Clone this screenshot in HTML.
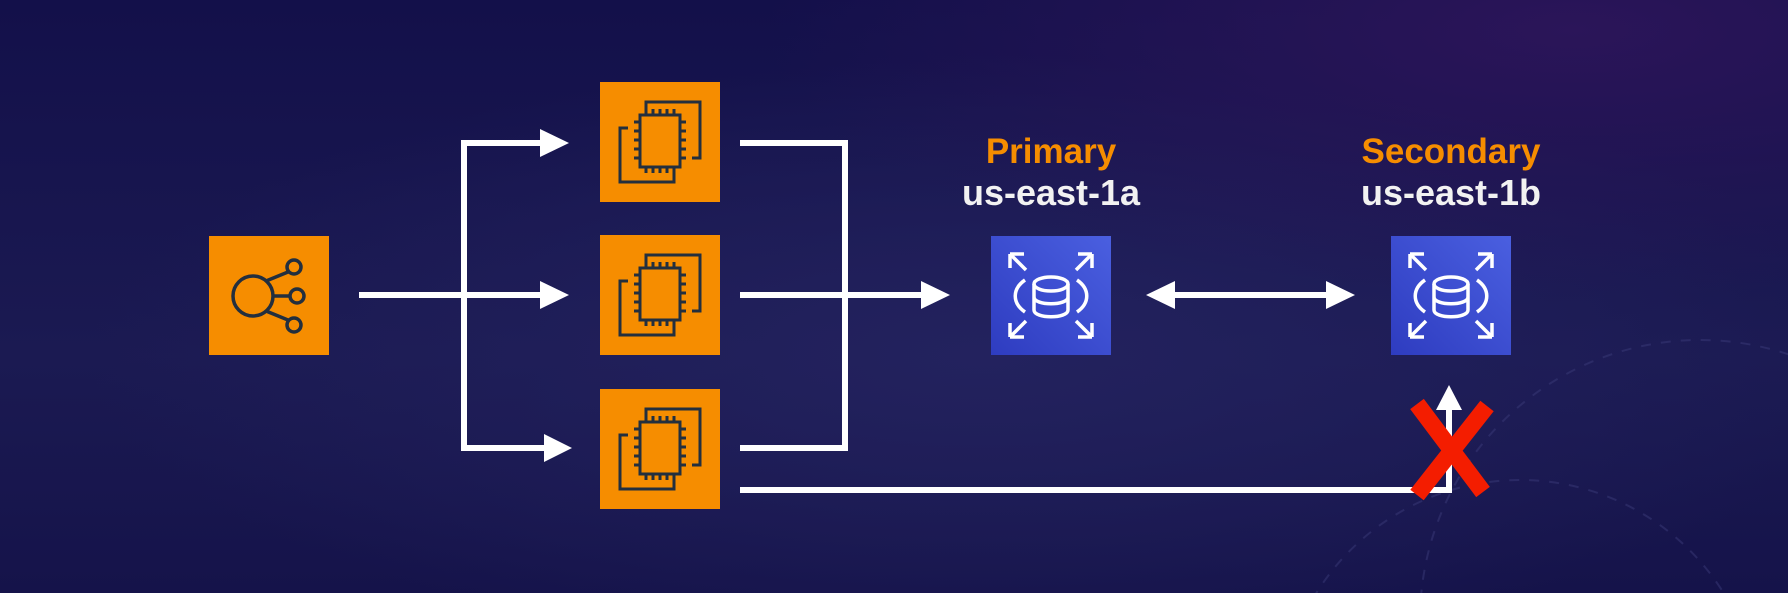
<!DOCTYPE html>
<html><head><meta charset="utf-8"><style>
html,body{margin:0;padding:0;width:1788px;height:593px;overflow:hidden;background:#15124a}
svg{display:block}
text{font-family:"Liberation Sans",sans-serif;font-weight:bold;text-anchor:middle}
</style></head><body>
<svg width="1788" height="593" viewBox="0 0 1788 593" xmlns="http://www.w3.org/2000/svg">
<defs>
<radialGradient id="bg1" cx="0.88" cy="0.05" r="0.45">
<stop offset="0" stop-color="#2b1559"/><stop offset="1" stop-color="#2b1559" stop-opacity="0"/>
</radialGradient>
<radialGradient id="bg2" cx="0.55" cy="0.6" r="0.5">
<stop offset="0" stop-color="#23225e"/><stop offset="1" stop-color="#23225e" stop-opacity="0"/>
</radialGradient>
<linearGradient id="bg0" x1="0" y1="0" x2="0" y2="1">
<stop offset="0" stop-color="#13104a"/><stop offset="0.6" stop-color="#1b1a52"/><stop offset="1" stop-color="#15134a"/>
</linearGradient>
<linearGradient id="blue" x1="0" y1="1" x2="1" y2="0">
<stop offset="0" stop-color="#2e3cc0"/><stop offset="1" stop-color="#4a5fe0"/>
</linearGradient>
<g id="ec2">
<rect x="0" y="0" width="120" height="120" fill="#f68d00"/>
<g fill="none" stroke="#232f3e" stroke-width="3">
<path d="M46 28 V20 H100 V76 H92"/>
<path d="M74 90 V100 H20 V46 H28"/>
<rect x="40" y="33" width="40" height="52"/>
<path d="M46 33v-6M53 33v-6M60 33v-6M67 33v-6M74 33v-6M46 85v6M53 85v6M60 85v6M67 85v6M74 85v6M40 40h-6M40 49h-6M40 58h-6M40 67h-6M40 76h-6M80 40h6M80 49h6M80 58h6M80 67h6M80 76h6"/>
</g>
</g>
<g id="rds">
<rect x="0" y="0" width="120" height="119" fill="url(#blue)"/>
<g fill="none" stroke="#fff" stroke-width="3.5">
<ellipse cx="60" cy="48" rx="17" ry="7"/>
<path d="M43 48v26c0 9 34 9 34 0V48M43 61c0 9 34 9 34 0"/>
<path d="M34 44c-13 9-13 23 0 32M86 44c13 9 13 23 0 32"/>
<path d="M19 18l16 16M19 18v14M19 18h14M101 18l-16 16M101 18v14M101 18h-14M19 101l16-16M19 101v-14M19 101h14M101 101l-16-16M101 101v-14M101 101h-14"/>
</g>
</g>
</defs>
<rect width="1788" height="593" fill="url(#bg0)"/>
<rect width="1788" height="593" fill="url(#bg2)"/>
<rect width="1788" height="593" fill="url(#bg1)"/>
<g fill="none" stroke="#3a3a78" stroke-width="2" stroke-dasharray="10 10" opacity="0.5">
<circle cx="1700" cy="620" r="280"/>
<circle cx="1520" cy="720" r="240"/>
</g>

<!-- ELB -->
<rect x="209" y="236" width="120" height="119" fill="#f68d00"/>
<g fill="none" stroke="#232f3e" stroke-width="3.5">
<circle cx="253" cy="296" r="20"/>
<circle cx="294" cy="267" r="7"/><circle cx="297" cy="296" r="7"/><circle cx="294" cy="325" r="7"/>
<path d="M266 281l22-9M273 296h17M266 311l22 9"/>
</g>

<use href="#ec2" x="600" y="82"/>
<use href="#ec2" x="600" y="235"/>
<use href="#ec2" x="600" y="389"/>

<!-- connectors -->
<g stroke="#fff" stroke-width="6" fill="none">
<path d="M359 295H545"/>
<path d="M545 143H464V448H545"/>
<path d="M740 143H845V448H740"/>
<path d="M740 295H925"/>
<path d="M1172 295H1330"/>
<path d="M740 490H1449V408"/>
</g>
<g fill="#fff">
<path d="M540 129L569 143L540 157Z"/>
<path d="M540 281L569 295L540 309Z"/>
<path d="M544 434L572 448L544 462Z"/>
<path d="M921 281L950 295L921 309Z"/>
<path d="M1146 295L1175 281V309Z"/>
<path d="M1355 295L1326 281V309Z"/>
<path d="M1449 385L1436 410H1462Z"/>
</g>

<use href="#rds" x="991" y="236"/>
<use href="#rds" x="1391" y="236"/>

<!-- labels -->
<text x="1051" y="163" font-size="35" fill="#f68d00">Primary</text>
<text x="1051" y="205" font-size="36" fill="#f2f2f2">us-east-1a</text>
<text x="1451" y="163" font-size="35" fill="#f68d00">Secondary</text>
<text x="1451" y="205" font-size="36" fill="#f2f2f2">us-east-1b</text>

<!-- red X -->
<g stroke="#f41d00" stroke-width="17" stroke-linecap="butt">
<path d="M1417 404L1483 492"/>
<path d="M1487 406L1417 495"/>
</g>
</svg>
</body></html>
